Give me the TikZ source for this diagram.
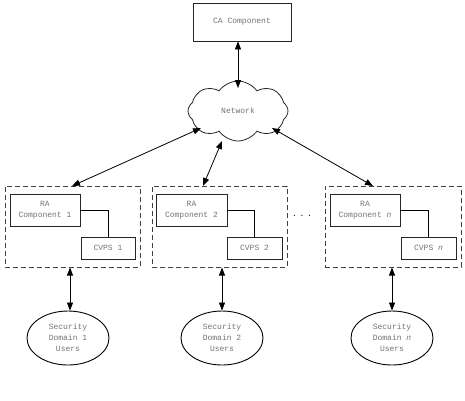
\documentclass[tikz,border=0pt]{standalone}
\usepackage{fontspec}
\setmonofont{Liberation Mono}
\usetikzlibrary{arrows.meta,shapes.geometric,shapes.symbols}
\begin{document}
\begin{tikzpicture}[x=1pt,y=-1pt,
  every node/.style={font=\ttfamily\fontsize{8}{11}\selectfont, text=black!55, align=center, inner sep=0pt},
  solidbox/.style={draw=black!85, line width=0.8pt},
  groupbox/.style={draw=black!75, line width=1pt, dash pattern=on 5pt off 3pt},
  dbl/.style={{Triangle[length=8pt,width=6pt]}-{Triangle[length=8pt,width=6pt]}, line width=0.8pt, black},
  link/.style={draw=black, line width=0.8pt}]
\useasboundingbox (0,0) rectangle (465,400);

\node[solidbox, minimum width=98pt, minimum height=38pt] (ca) at (242,22) {CA Component};
\node[draw=black!85, line width=0.8pt, cloud, cloud puffs=8, cloud puff arc=110, aspect=1.7,
      minimum width=100pt, minimum height=60pt] (net) at (238,111) {Network};

% groups
\node[groupbox, minimum width=135pt, minimum height=81pt] (d1) at (72.5,226.5) {};
\node[groupbox, minimum width=135pt, minimum height=81pt] (d2) at (219.5,226.5) {};
\node[groupbox, minimum width=136pt, minimum height=81pt] (d3) at (393,226.5) {};

\node[solidbox, minimum width=70pt, minimum height=32pt] (ra1) at (45,210) {RA\\Component 1};
\node[solidbox, minimum width=54pt, minimum height=22pt] (cv1) at (108,248) {CVPS 1};
\node[solidbox, minimum width=71pt, minimum height=32pt] (ra2) at (191.5,210) {RA\\Component 2};
\node[solidbox, minimum width=55pt, minimum height=22pt] (cv2) at (254.5,248) {CVPS 2};
\node[solidbox, minimum width=70pt, minimum height=32pt] (ra3) at (365,210) {RA\\Component \textit{n}};
\node[solidbox, minimum width=55pt, minimum height=22pt] (cv3) at (428.5,248) {CVPS \textit{n}};

\node[text=black] (dots) at (302,216) {.\,\,.\,\,.};

\draw[link] (ra1.east) -| (cv1.north);
\draw[link] (ra2.east) -| (cv2.north);
\draw[link] (ra3.east) -| (cv3.north);

% users
\node[draw=black, line width=0.9pt, ellipse, minimum width=82pt, minimum height=54pt] (e1) at (68,338) {Security\\Domain 1\\Users};
\node[draw=black, line width=0.9pt, ellipse, minimum width=82pt, minimum height=54pt] (e2) at (222,338) {Security\\Domain 2\\Users};
\node[draw=black, line width=0.9pt, ellipse, minimum width=82pt, minimum height=54pt] (e3) at (392,338) {Security\\Domain \textit{n}\\Users};

% arrows
\coordinate (t1) at (72,186);
\coordinate (t2) at (203,186);
\coordinate (t3) at (373,186);
\coordinate (c0) at (238,88);
\coordinate (c1) at (201,128);
\coordinate (c2) at (222,141);
\coordinate (c3) at (272,128);
\draw[dbl] (ca.south -| c0) -- (c0);
\draw[dbl] (c1) -- (t1);
\draw[dbl] (c2) -- (t2);
\draw[dbl] (c3) -- (t3);
\draw[dbl] (e1.north -| 70,0) -- (d1.south -| 70,0);
\draw[dbl] (e2.north) -- (e2.north |- d2.south);
\draw[dbl] (e3.north) -- (e3.north |- d3.south);
\end{tikzpicture}
\end{document}
